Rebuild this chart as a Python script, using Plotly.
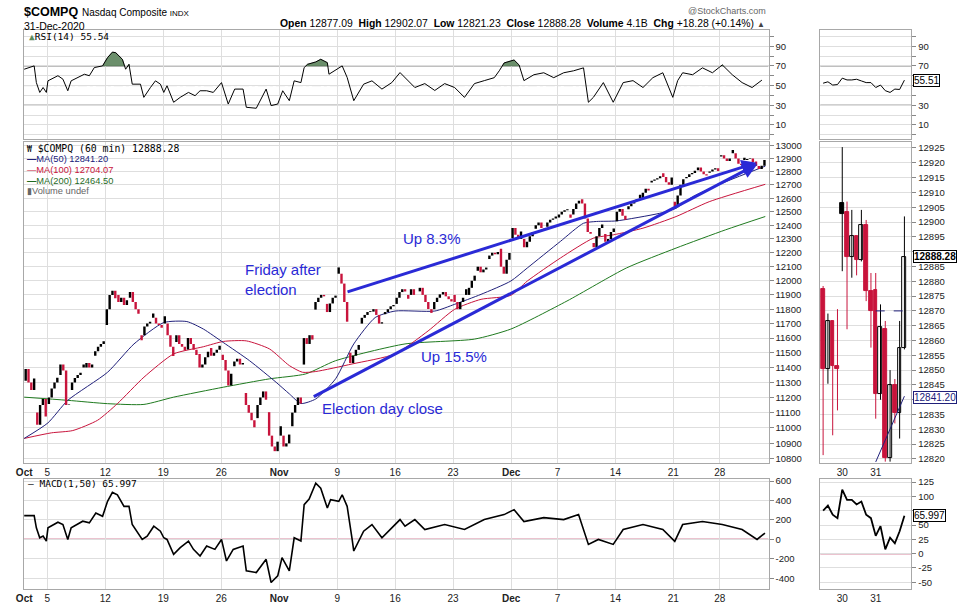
import math
import plotly.graph_objects as go

W, H = 958, 606

# ---------------- data ----------------
oct_days = [1, 2, 5, 6, 7, 8, 9, 12, 13, 14, 15, 16, 19, 20, 21, 22, 23, 26, 27, 28, 29, 30]
nov_days = [2, 3, 4, 5, 6, 9, 10, 11, 12, 13, 16, 17, 18, 19, 20, 23, 24, 25, 27, 30]
dec_days = [1, 2, 3, 4, 7, 8, 9, 10, 11, 14, 15, 16, 17, 18, 21, 22, 23, 24, 28, 29, 30, 31]

# 60-min path per session: open, three intraday checkpoints, close
oct_paths = [
    [11311, 11390, 11300, 11250, 11326], [11101, 11020, 11150, 11190, 11075],
    [11157, 11200, 11260, 11300, 11332], [11350, 11420, 11380, 11150, 11154],
    [11250, 11300, 11330, 11350, 11364], [11420, 11400, 11430, 11400, 11420],
    [11480, 11510, 11540, 11560, 11579], [11690, 11800, 11900, 11930, 11876],
    [11900, 11850, 11880, 11830, 11863], [11880, 11920, 11850, 11800, 11768],
    [11586, 11620, 11680, 11700, 11713], [11770, 11740, 11700, 11690, 11671],
    [11751, 11700, 11620, 11540, 11478], [11574, 11620, 11560, 11540, 11516],
    [11522, 11600, 11560, 11520, 11484], [11491, 11400, 11420, 11470, 11506],
    [11532, 11480, 11500, 11520, 11548], [11486, 11450, 11380, 11280, 11358],
    [11409, 11440, 11460, 11420, 11431], [11230, 11150, 11100, 11050, 11004],
    [11064, 11150, 11200, 11240, 11185], [11103, 10950, 10880, 10850, 10911],
]
nov_paths = [
    [11011, 10950, 10880, 10900, 10957], [11011, 11100, 11150, 11200, 11160],
    [11420, 11600, 11560, 11620, 11590], [11797, 11850, 11880, 11900, 11890],
    [11837, 11780, 11840, 11880, 11895], [12095, 12050, 11980, 11850, 11713],
    [11500, 11430, 11480, 11520, 11553], [11700, 11740, 11760, 11780, 11786],
    [11783, 11800, 11760, 11700, 11709], [11765, 11780, 11800, 11820, 11829],
    [11837, 11880, 11920, 11940, 11924], [11873, 11900, 11940, 11900, 11899],
    [11925, 11950, 11900, 11850, 11801], [11774, 11800, 11850, 11880, 11904],
    [11903, 11920, 11890, 11870, 11854], [11900, 11850, 11800, 11850, 11880],
    [11940, 11900, 11950, 12000, 12036], [12071, 12100, 12060, 12080, 12094],
    [12155, 12180, 12200, 12190, 12205], [12230, 12100, 12050, 12150, 12198],
]
dec_paths = [
    [12308, 12380, 12330, 12300, 12355], [12300, 12240, 12280, 12320, 12349],
    [12375, 12400, 12420, 12380, 12377], [12390, 12420, 12440, 12450, 12464],
    [12457, 12480, 12500, 12510, 12519], [12456, 12480, 12520, 12560, 12582],
    [12593, 12560, 12450, 12350, 12338], [12270, 12240, 12320, 12380, 12405],
    [12337, 12280, 12300, 12350, 12377], [12430, 12500, 12520, 12470, 12440],
    [12519, 12540, 12560, 12580, 12595], [12625, 12600, 12640, 12670, 12658],
    [12718, 12730, 12740, 12750, 12764], [12788, 12760, 12720, 12700, 12755],
    [12573, 12540, 12620, 12700, 12742], [12749, 12760, 12780, 12790, 12807],
    [12811, 12830, 12800, 12780, 12771], [12791, 12800, 12815, 12825, 12804],
    [12914, 12925, 12900, 12880, 12899], [12965, 12940, 12900, 12860, 12850],
    [12906, 12888, 12895, 12899, 12870], [12877, 12842, 12820, 12845, 12888.28],
]

tick_dates = [(10, 1), (10, 5), (10, 12), (10, 19), (10, 26), (11, 2), (11, 9),
              (11, 16), (11, 23), (12, 1), (12, 7), (12, 14), (12, 21), (12, 28)]
tick_text = ["<b>Oct</b>", "5", "12", "19", "26", "<b>Nov</b>", "9", "16", "23",
             "<b>Dec</b>", "7", "14", "21", "28"]

# moving averages: (trading-day position, value)
ma50_day = [0, 2.05, 3.76, 7.19, 9.47, 12.04, 14.03, 15.46, 17.17, 19.44, 21.73, 22.87, 23.87,
            25.15, 26.86, 28.43, 30.28, 32.0, 35.42, 37.13, 39.41, 41.98, 43.4, 46.25, 48.25,
            49.38, 51.07, 54.81, 56.23, 57.66, 60.51, 63.93]
ma50_val = [10932, 11033, 11181, 11368, 11560, 11707, 11714, 11662, 11570, 11446, 11301, 11224,
            11160, 11190, 11324, 11560, 11742, 11787, 11787, 11834, 11904, 11998, 12091, 12282,
            12415, 12428, 12432, 12488, 12525, 12611, 12723, 12841.20]
ma100_day = [0, 2.34, 4.19, 6.33, 8.04, 10.33, 12.89, 15.46, 17.17, 19.16, 21.16, 22.87, 24.01,
             25.15, 28.29, 32.0, 34.84, 37.13, 39.41, 41.98, 43.4, 46.25, 49.1, 50.81, 53.38,
             56.23, 59.09, 63.93]
ma100_val = [10932, 10968, 10983, 11050, 11159, 11335, 11492, 11541, 11577, 11581, 11526, 11413,
             11368, 11373, 11424, 11492, 11649, 11799, 11869, 11897, 11998, 12162, 12306, 12330,
             12379, 12464, 12574, 12704.07]
ma200_day = [0, 3.76, 7.19, 10.33, 12.89, 17.17, 21.16, 24.29, 26.86, 32.85, 38.84, 41.98,
             46.82, 51.95, 56.23, 60.51, 63.93]
ma200_val = [11202, 11181, 11159, 11154, 11202, 11268, 11324, 11357, 11446, 11560, 11593, 11662,
             11857, 12091, 12234, 12367, 12464.50]

rsi_day = [0, 0.86, 1.05, 1.34, 1.63, 1.91, 2.05, 2.91, 3.34, 3.76, 4.05, 5.19, 5.62, 6.05, 6.76,
           7.19, 7.61, 7.9, 8.47, 8.75, 9.04, 9.32, 10.03, 10.32, 10.89, 11.32, 11.75, 12.04,
           12.32, 12.89, 13.46, 14.17, 14.74, 15.17, 15.74, 16.31, 17.02, 17.6, 18.16, 18.88,
           19.16, 20.02, 20.87, 21.3, 21.87, 22.3, 22.87, 23.29, 23.87, 24.15, 24.44, 25.15,
           25.58, 26.15, 26.29, 27.14, 27.43, 27.86, 28.43, 29.28, 30.0, 30.86, 31.71, 32.42,
           32.85, 33.7, 34.56, 35.42, 36.27, 37.13, 37.98, 38.84, 39.69, 40.55, 40.98, 41.4,
           42.26, 42.69, 43.11, 43.97, 44.82, 45.68, 46.54, 47.39, 48.25, 48.67, 49.1, 49.96,
           50.81, 51.67, 52.52, 53.38, 54.23, 55.09, 55.95, 56.37, 56.8, 57.66, 58.51, 59.37,
           60.22, 61.08, 61.93, 62.79, 63.64]
rsi_val = [66.6, 70, 53, 43, 48, 43, 54.8, 60, 56.5, 44.7, 54.8, 61.5, 60, 68.3, 70, 78.4, 84,
           83.4, 76.7, 66.6, 71.6, 51.4, 51.4, 38, 48, 54.8, 51.4, 43, 49.8, 33, 38, 43, 39.7,
           44.7, 44.7, 43, 53, 31.2, 46.4, 46.4, 27.9, 26.9, 46.4, 29.6, 31.2, 44.7, 34.6, 54.8,
           53, 68.3, 71.6, 74, 76.7, 73.3, 61.5, 68.3, 70, 58.2, 34.6, 51.4, 54.8, 46.4, 53, 63.2,
           58.2, 48, 52, 45, 52, 48, 38, 52, 55, 58, 65, 73, 76, 71, 55, 61, 63, 58, 63, 65, 68,
           33, 38, 53, 33, 53, 55, 48, 58, 63, 38, 55, 63, 61, 68, 63, 71, 61, 53, 48, 55.54]

macd_day = [0, 0.86, 1.05, 1.34, 1.63, 1.91, 2.05, 2.91, 3.34, 3.76, 4.05, 5.05, 5.62, 6.18, 6.76,
            7.19, 7.61, 8.04, 8.61, 9.04, 9.32, 10.18, 10.61, 11.18, 11.75, 12.04, 12.32, 12.89,
            13.46, 14.17, 14.6, 15.17, 15.74, 16.45, 17.02, 17.45, 18.03, 18.88, 19.16, 20.02,
            20.87, 21.3, 21.87, 22.24, 22.87, 23.29, 23.87, 24.15, 24.58, 25.15, 25.58, 26.15,
            26.43, 27.14, 27.43, 27.86, 28.29, 28.43, 29.28, 30.0, 30.86, 31.71, 32.42, 32.85,
            33.7, 34.56, 36.27, 37.98, 39.69, 41.4, 42.26, 43.11, 44.82, 46.54, 47.82, 48.67,
            49.53, 50.81, 51.67, 53.38, 55.09, 56.12, 56.8, 58.51, 60.22, 61.93, 63.22, 63.9]
macd_val = [245, 245, 119, 17, 34, -17, 119, 177, 153, 0, 119, 187, 170, 272, 238, 391, 483, 459,
            340, 340, 153, 0, 34, 136, 85, 17, 0, -153, -85, -17, -102, -170, -68, -102, 0, -221,
            -102, -68, -323, -340, -204, -442, -374, -187, -323, 17, -17, 357, 415, 578, 527, 323,
            408, 391, 459, 340, 0, -119, 85, 153, 17, 119, 204, 136, 204, 102, 153, 102, 204, 255,
            306, 184, 224, 204, 255, -51, 0, -51, 102, 153, 102, -20, 153, 184, 153, 102, 0, 65.997]

# close-up panel: last 60-min bars of Dec 29, Dec 30 and Dec 31
mini_open = [12877.3, 12850.4, 12866.4, 12851.5, 12906.3, 12903.5, 12888.1, 12895.1, 12887.3,
             12899.1, 12876.7, 12877.1, 12842.0, 12863.8, 12820.2, 12844.8, 12835.5, 12857.6]
mini_high = [12878.4, 12869.1, 12866.6, 12870.6, 12925.3, 12906.9, 12904.1, 12895.1, 12904.1,
             12900.7, 12882.8, 12882.8, 12872.2, 12866.6, 12850.0, 12847.0, 12866.6, 12901.9]
mini_low = [12821.3, 12845.4, 12828.0, 12836.4, 12883.4, 12863.8, 12881.2, 12882.0, 12886.7,
            12873.3, 12857.6, 12833.6, 12840.0, 12819.1, 12819.1, 12832.0, 12826.9, 12857.0]
mini_close = [12850.4, 12866.4, 12851.5, 12850.4, 12902.6, 12888.1, 12895.1, 12887.0, 12899.1,
              12876.7, 12870.0, 12842.0, 12864.4, 12820.2, 12844.8, 12835.5, 12857.6, 12888.28]
mini_ma50 = [None] * 11 + [12819.0, 12822.7, 12826.4, 12830.0, 12833.8, 12837.5, 12841.20]
mini_rsi = [52.4, 53.8, 50.5, 51, 57.5, 55.7, 55.7, 56.4, 54.7, 53, 53, 48, 50.5, 44.8, 43,
            46.4, 46, 55.5]
mini_macd = [75, 84, 68, 62, 112, 94, 94, 86, 91, 68, 62, 31, 48, 7.5, 28, 18, 39, 65.997]
mini_prev_close = 12870.00
mini_ticks = [4, 11]
mini_tick_text = ["30", "31"]

# ---------------- geometry ----------------
BAR_PX = 1.67
L, R = 16, 767
ML, MR = 819, 911
P_RSI = (27, 137)
P_MAIN = (140, 463)
P_MACD = (479, 590)
X0 = -0.2
xr = [X0, X0 + (R - L) / BAR_PX]
mxr = [-0.62, 18.46]
OFFS = [0.9, 2.6, 4.3, 6.0]
BLUE = "#2a2ad6"
RED = "#c8143c"
GRID = "#dedede"
BORDER = "#a8a8a8"
FONT = "Liberation Sans, Arial, sans-serif"
MONO = "DejaVu Sans Mono, monospace"


def dom_x(a, b):
    return [a / W, b / W]


def dom_y(p):
    return [1 - p[1] / H, 1 - p[0] / H]


months = [(10, oct_days, oct_paths), (11, nov_days, nov_paths), (12, dec_days, dec_paths)]
day_keys, paths = [], []
for m, ds, ps in months:
    for d, p in zip(ds, ps):
        day_keys.append((m, d))
        paths.append(p)

# candle segments
rx, ry, bx, by = [], [], [], []
prev = paths[0][0]
for di, p in enumerate(paths):
    for k in range(4):
        o, c = p[k], p[k + 1]
        ref = prev if k == 0 else o
        x = 7 * di + OFFS[k]
        if c < ref:
            rx += [x, x, None]; ry += [o, c, None]
        else:
            bx += [x, x, None]; by += [o, c, None]
    prev = p[4]

fig = go.Figure()

# RSI panel
rsi_x = [7 * d for d in rsi_day]
pts = []
for i in range(len(rsi_x)):
    if i > 0:
        y0, y1 = rsi_val[i - 1], rsi_val[i]
        if (y0 > 70) != (y1 > 70):
            t = (70 - y0) / (y1 - y0)
            pts.append((rsi_x[i - 1] + t * (rsi_x[i] - rsi_x[i - 1]), 70))
    pts.append((rsi_x[i], rsi_val[i]))
fx, fy, run = [], [], []
for (x, y) in pts + [(None, 0)]:
    if x is not None and y >= 70:
        run.append((x, y))
    else:
        if len(run) > 2:
            fx += [q[0] for q in run] + [run[0][0], None]
            fy += [q[1] for q in run] + [run[0][1], None]
        run = []
fig.add_trace(go.Scatter(x=fx, y=fy, fill="toself", fillcolor="#6b8f6b", mode="lines",
                         line=dict(color="#4f6f4f", width=0.5), xaxis="x", yaxis="y",
                         hoverinfo="skip"))
fig.add_trace(go.Scatter(x=rsi_x, y=rsi_val, mode="lines", line=dict(color="black", width=1),
                         xaxis="x", yaxis="y"))

# main panel
fig.add_trace(go.Scatter(x=[7 * d for d in ma200_day], y=ma200_val, mode="lines",
                         line=dict(color="#1f7a1f", width=1, shape="spline", smoothing=0.6),
                         xaxis="x2", yaxis="y2"))
fig.add_trace(go.Scatter(x=[7 * d for d in ma100_day], y=ma100_val, mode="lines",
                         line=dict(color="#c8143c", width=1, shape="spline", smoothing=0.6),
                         xaxis="x2", yaxis="y2"))
fig.add_trace(go.Scatter(x=[7 * d for d in ma50_day], y=ma50_val, mode="lines",
                         line=dict(color="#20207a", width=1, shape="spline", smoothing=0.6),
                         xaxis="x2", yaxis="y2"))
fig.add_trace(go.Scatter(x=bx, y=by, mode="lines", line=dict(color="black", width=2.4),
                         xaxis="x2", yaxis="y2", connectgaps=False))
fig.add_trace(go.Scatter(x=rx, y=ry, mode="lines", line=dict(color=RED, width=2.4),
                         xaxis="x2", yaxis="y2", connectgaps=False))

# MACD panel
fig.add_trace(go.Scatter(x=[7 * d for d in macd_day], y=macd_val, mode="lines",
                         line=dict(color="black", width=1.6), xaxis="x3", yaxis="y3"))

# mini panels
mi = list(range(len(mini_close)))
fig.add_trace(go.Scatter(x=mi, y=mini_rsi, mode="lines", line=dict(color="black", width=1),
                         xaxis="x4", yaxis="y4"))
body_base, body_h, body_fill, body_line = [], [], [], []
bwx, bwy, rwx, rwy = [], [], [], []
for i in mi:
    o, h, lo, c = mini_open[i], mini_high[i], mini_low[i], mini_close[i]
    pc = mini_close[i - 1] if i > 0 else o
    col = RED if c < pc else "black"
    if col == RED:
        rwx += [i, i, None]; rwy += [lo, h, None]
    else:
        bwx += [i, i, None]; bwy += [lo, h, None]
    body_base.append(min(o, c)); body_h.append(max(abs(c - o), 0.4))
    body_line.append(col)
    body_fill.append(col if c < o else "white")
fig.add_trace(go.Scatter(x=bwx, y=bwy, mode="lines", line=dict(color="black", width=1),
                         xaxis="x5", yaxis="y5"))
fig.add_trace(go.Scatter(x=rwx, y=rwy, mode="lines", line=dict(color=RED, width=1),
                         xaxis="x5", yaxis="y5"))
fig.add_trace(go.Bar(x=mi, y=body_h, base=body_base, width=0.78,
                     marker=dict(color=body_fill, line=dict(color=body_line, width=1)),
                     xaxis="x5", yaxis="y5"))
fig.add_trace(go.Scatter(x=mi, y=mini_ma50, mode="lines", line=dict(color="#20207a", width=1),
                         xaxis="x5", yaxis="y5"))
fig.add_trace(go.Scatter(x=mi, y=mini_macd, mode="lines", line=dict(color="black", width=1.8),
                         xaxis="x6", yaxis="y6"))

# ---------------- axes ----------------
tick_x = [7 * day_keys.index(t) for t in tick_dates]
ax_common = dict(showline=True, mirror=True, linecolor=BORDER, linewidth=1, zeroline=False,
                 gridcolor=GRID, fixedrange=True)
ax_nogrid = {k: v for k, v in ax_common.items() if k != "gridcolor"}
tf = dict(family=FONT, size=10, color="#222")

layout = dict(
    width=W, height=H, margin=dict(l=0, r=0, t=0, b=0), paper_bgcolor="white",
    plot_bgcolor="white", showlegend=False, bargap=0,
    xaxis=dict(domain=dom_x(L, R), range=xr, tickvals=tick_x, showticklabels=False, ticks="",
               anchor="y", **ax_common),
    xaxis2=dict(domain=dom_x(L, R), range=xr, tickvals=tick_x, ticktext=tick_text, ticks="",
                tickfont=tf, anchor="y2", **ax_common),
    xaxis3=dict(domain=dom_x(L, R), range=xr, tickvals=tick_x, ticktext=tick_text, ticks="",
                tickfont=tf, anchor="y3", **ax_common),
    xaxis4=dict(domain=dom_x(ML, MR), range=mxr, tickvals=mini_ticks, showticklabels=False,
                ticks="", showgrid=False, anchor="y4", **ax_nogrid),
    xaxis5=dict(domain=dom_x(ML, MR), range=mxr, tickvals=mini_ticks, ticktext=mini_tick_text,
                tickfont=tf, ticks="", showgrid=False, anchor="y5", **ax_nogrid),
    xaxis6=dict(domain=dom_x(ML, MR), range=mxr, tickvals=mini_ticks, ticktext=mini_tick_text,
                tickfont=tf, ticks="", showgrid=False, anchor="y6", **ax_nogrid),
)

rsi_ticks = list(range(0, 101, 10))
rsi_text = [str(v) if v in (10, 30, 50, 70, 90) else "" for v in rsi_ticks]
mini_rsi_text = [str(v) if v in (10, 30, 70, 90) else "" for v in rsi_ticks]
main_ticks = list(range(10800, 13001, 100))
macd_ticks = list(range(-400, 601, 200))
mini_ticks_y = list(range(12820, 12926, 5))
mini_ticks_text = ["" if v in (12890, 12840) else str(v) for v in mini_ticks_y]
mini_macd_ticks = list(range(-50, 126, 25))
mini_macd_text = ["" if v == 75 else str(v) for v in mini_macd_ticks]
yt = dict(side="right", ticks="outside", ticklen=4, tickcolor="#888",
          tickfont=dict(family=FONT, size=9.5, color="#222"))
layout.update(
    yaxis=dict(domain=dom_y(P_RSI), range=[-4.45, 106.67], tickvals=rsi_ticks, ticktext=rsi_text,
               anchor="x", **yt, **ax_common),
    yaxis2=dict(domain=dom_y(P_MAIN), type="log",
                range=[math.log10(10774.7), math.log10(13025.2)], tickvals=main_ticks,
                ticktext=[str(v) for v in main_ticks], anchor="x2", **yt, **ax_common),
    yaxis3=dict(domain=dom_y(P_MACD), range=[-510.2, 622.4], tickvals=macd_ticks,
                ticktext=[str(v) for v in macd_ticks], anchor="x3", **yt, **ax_common),
    yaxis4=dict(domain=dom_y(P_RSI), range=[-4.45, 106.67], tickvals=rsi_ticks,
                ticktext=mini_rsi_text, anchor="x4", **yt, **ax_common),
    yaxis5=dict(domain=dom_y(P_MAIN), range=[12818.66, 12927.0], tickvals=mini_ticks_y,
                ticktext=mini_ticks_text, anchor="x5", **yt, **ax_common),
    yaxis6=dict(domain=dom_y(P_MACD), range=[-62.0, 130.7], tickvals=mini_macd_ticks,
                ticktext=mini_macd_text, anchor="x6", **yt, **ax_common),
)
fig.update_layout(**layout)

# ---------------- shapes ----------------
shapes = []
for xa, ya, xx in (("x", "y", xr), ("x4", "y4", mxr)):
    for lvl in (70, 30):
        shapes.append(dict(type="line", xref=xa, yref=ya, x0=xx[0], x1=xx[1], y0=lvl, y1=lvl,
                           line=dict(color="#555", width=1), layer="below"))
    shapes.append(dict(type="line", xref=xa, yref=ya, x0=xx[0], x1=xx[1], y0=50, y1=50,
                       line=dict(color="#555", width=1, dash="dashdot"), layer="below"))
shapes.append(dict(type="line", xref="x3", yref="y3", x0=xr[0], x1=xr[1], y0=0, y1=0,
                   line=dict(color="#b01040", width=1.2), layer="below"))
shapes.append(dict(type="line", xref="x6", yref="y6", x0=mxr[0], x1=mxr[1], y0=0, y1=0,
                   line=dict(color="#b01040", width=1.2), layer="below"))
shapes.append(dict(type="line", xref="x5", yref="y5", x0=11, x1=mxr[1], y0=mini_prev_close,
                   y1=mini_prev_close, line=dict(color="#20207a", width=1, dash="dash")))
for (x0, y0, x1, y1) in ((17, 141, 186, 195), (17, 28, 100, 41), (17, 480, 136, 489)):
    shapes.append(dict(type="rect", xref="paper", yref="paper", x0=x0 / W, x1=x1 / W,
                       y0=1 - y1 / H, y1=1 - y0 / H, fillcolor="white", line=dict(width=0),
                       layer="below"))

nov3 = day_keys.index((11, 3)); nov6 = day_keys.index((11, 6)); dec31 = day_keys.index((12, 31))
marks = [(7 * nov3 + 6, paths[nov3][4], 13, 9), (7 * nov6 + 6, paths[nov6][4], 8.5, 11),
         (7 * dec31 + 6.5, paths[dec31][4], 5.5, 9)]
for (cx, cp, erx, ery) in marks:
    shapes.append(dict(type="circle", xref="x2", yref="y2", xsizemode="pixel", ysizemode="pixel",
                       xanchor=cx, yanchor=math.log10(cp), x0=-erx, x1=erx, y0=-ery, y1=ery,
                       line=dict(color=BLUE, width=2)))
fig.update_layout(shapes=shapes)

# ---------------- annotations ----------------
ann = []


def txt(x, y, s, size=10, color="black", family=FONT, xanchor="left", **kw):
    ann.append(dict(x=x / W, y=1 - y / H, xref="paper", yref="paper", text=s, showarrow=False,
                    xanchor=xanchor, yanchor="middle",
                    font=dict(family=family, size=size, color=color), **kw))


txt(14, 9, "<b>$COMPQ</b>", size=12.5)
txt(73, 10, "Nasdaq Composite <span style='font-size:8px'>INDX</span>", size=10)
txt(14, 23, "31-Dec-2020", size=10.5)
txt(765, 21, "<b>Open</b> 12877.09  <b>High</b> 12902.07  <b>Low</b> 12821.23  <b>Close</b> 12888.28  "
    "<b>Volume</b> 4.1B  <b>Chg</b> +18.28 (+0.14%) <span style='font-size:8px;color:#444'>▲</span>",
    size=10.4, xanchor="right")
txt(766, 8, "@StockCharts.com", size=9, color="#666", xanchor="right")
txt(19, 34, "<span style='color:#5b8c5a'>▲</span>RSI(14) 55.54", size=9.5, family=MONO)
txt(17, 146, "<span style='font-size:8px'>₩</span> $COMPQ (60 min) 12888.28", size=9.8, family=MONO)
txt(17, 157, "<span style='color:#20207a'><b>—</b>MA(50) 12841.20</span>", size=9.3)
txt(17, 168, "<span style='color:#c8143c'>—MA(100) 12704.07</span>", size=9.3)
txt(17, 179, "<span style='color:#1f6b1f'><b>—</b>MA(200) 12464.50</span>", size=9.3)
txt(17, 189.5, "<span style='color:#666'>▮Volume undef</span>", size=9.3)
txt(18, 484, "— MACD(1,50) 65.997", size=9.5, family=MONO)

txt(237, 268, "Friday after", size=15, color=BLUE)
txt(237, 288, "election", size=15, color=BLUE)
txt(396, 237, "Up 8.3%", size=15, color=BLUE)
txt(414, 356, "Up 15.5%", size=15, color=BLUE)
txt(315, 408, "Election day close", size=15, color=BLUE)

for (y, s, col, bold) in ((78.3, "55.51", "black", False), (255.5, "12888.28", "black", True),
                          (396.7, "12841.20", "#20207a", False), (516, "65.997", "black", False)):
    txt(913, y, ("<b>%s</b>" % s) if bold else s, size=10, color=col, bgcolor="white",
        bordercolor=col, borderwidth=1, borderpad=0)

head_x = 7 * dec31 + 6.5
head_y = math.log10(paths[dec31][4])
for (tx, tp, ss) in ((7 * nov6 + 6, paths[nov6][4], 11), (7 * nov3 + 6, paths[nov3][4], 13)):
    ann.append(dict(x=head_x, y=head_y, xref="x2", yref="y2", ax=tx, ay=math.log10(tp),
                    axref="x2", ayref="y2", text="", showarrow=True, arrowhead=2, arrowsize=1,
                    arrowwidth=3, arrowcolor=BLUE, standoff=9, startstandoff=ss))
fig.update_layout(annotations=ann)

fig.write_html("out.html")
